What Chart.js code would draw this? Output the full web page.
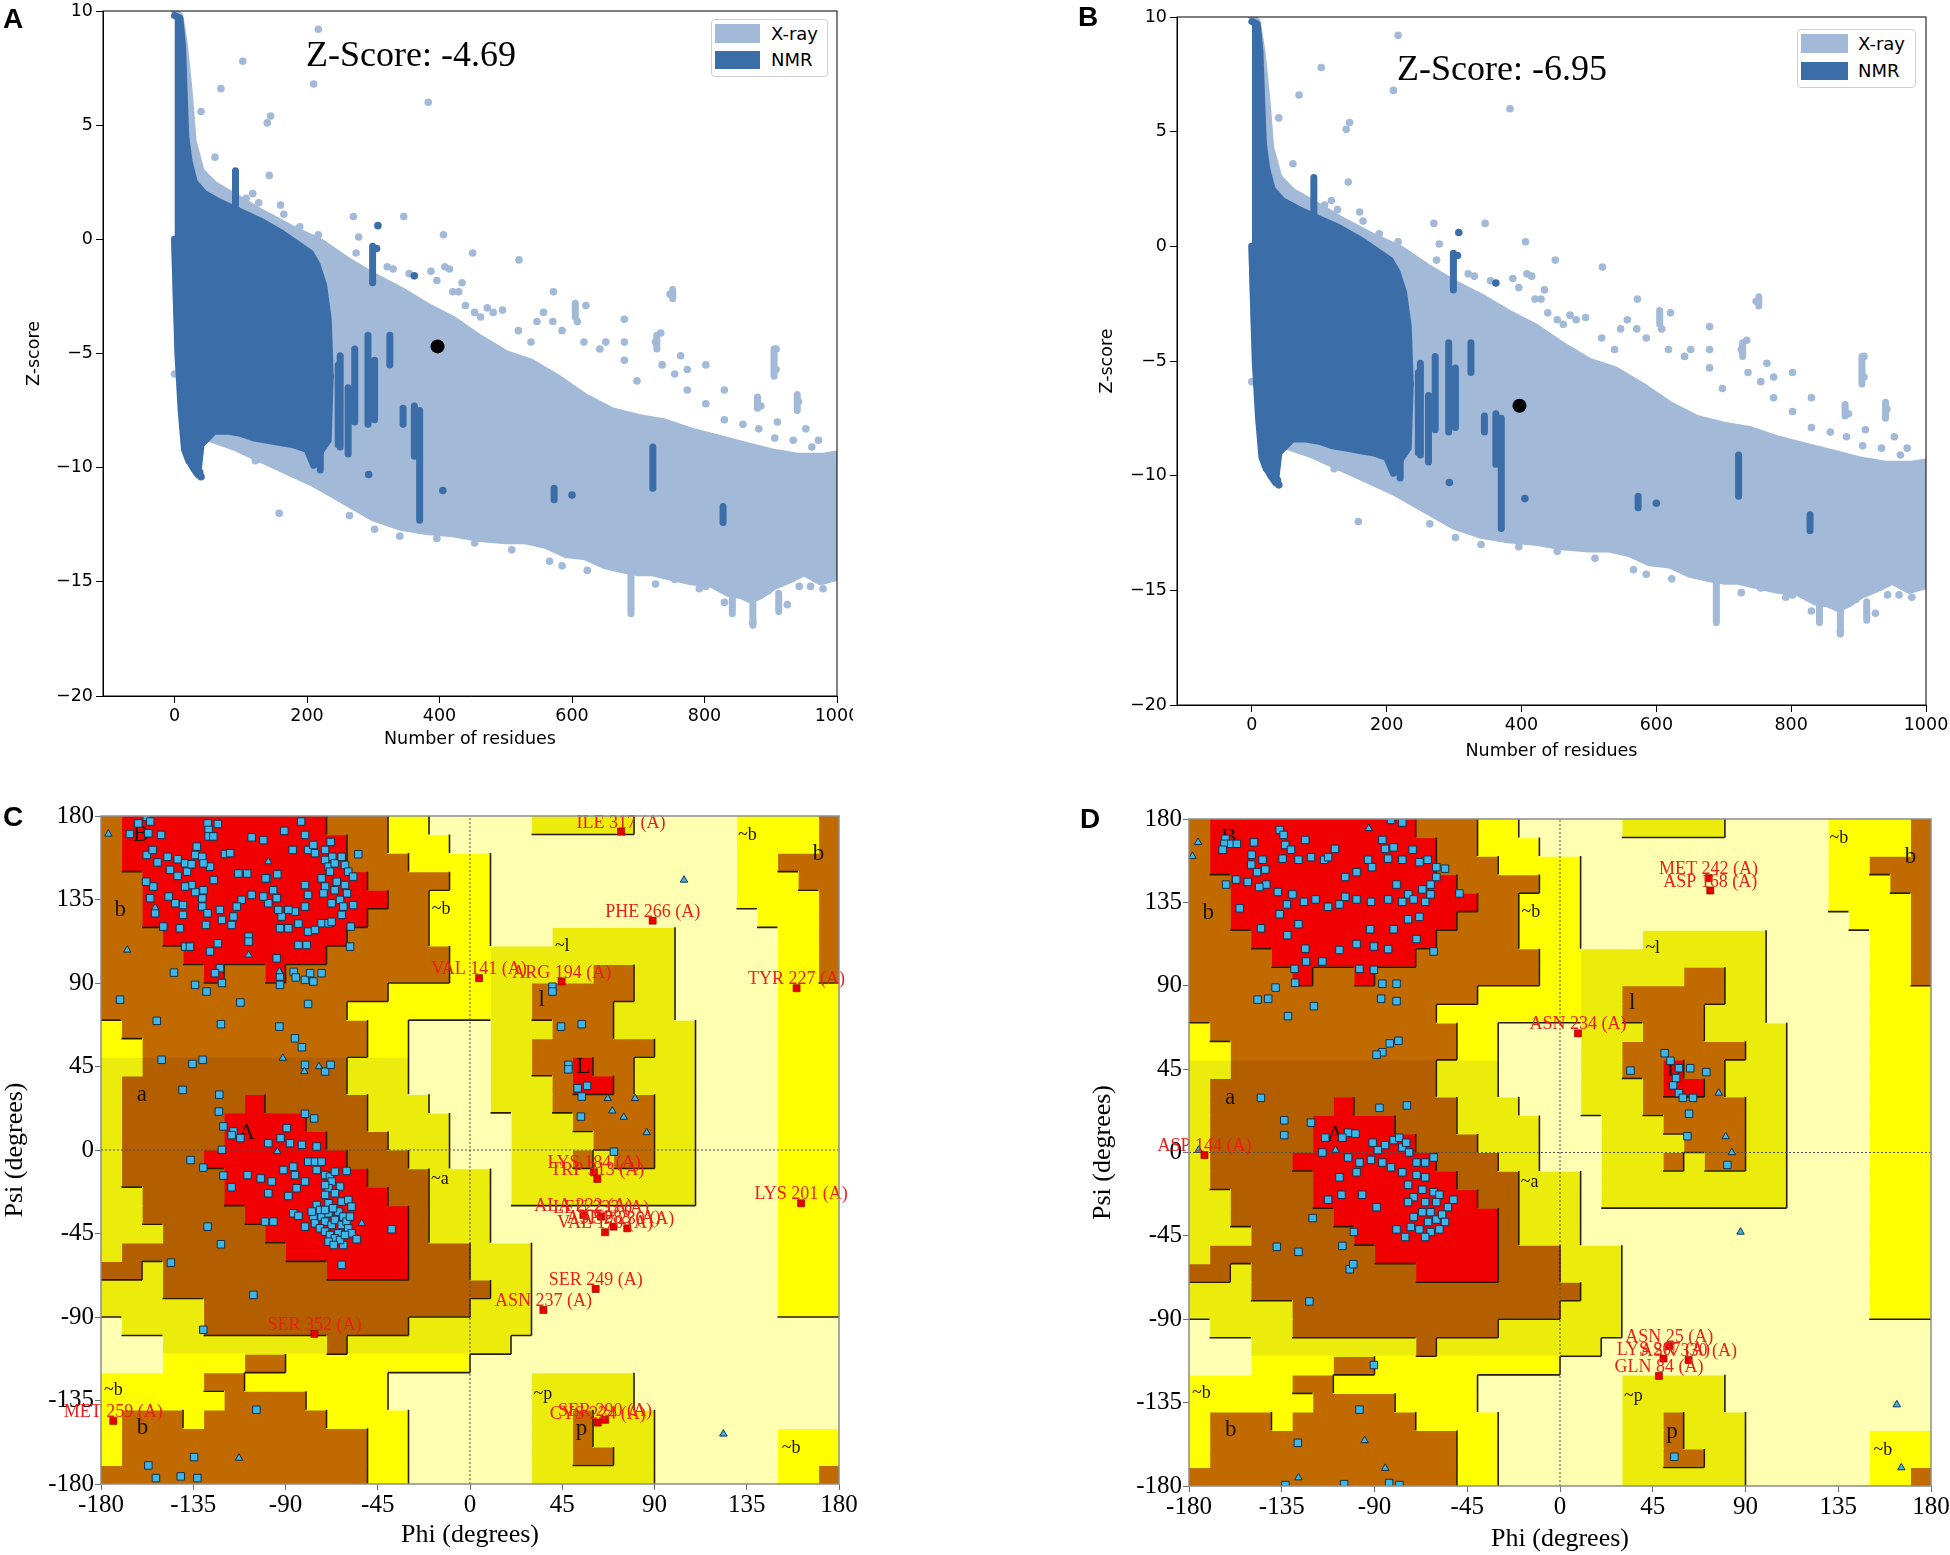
<!DOCTYPE html>
<html>
<head>
<meta charset="utf-8">
<title>ProSA Z-score and Ramachandran plots</title>
<script src="https://cdn.jsdelivr.net/npm/chart.js@4.4.1/dist/chart.umd.min.js"></script>
<style>
  html, body { margin:0; padding:0; background:#ffffff; }
  body { position:relative; width:1950px; height:1555px; overflow:hidden; }
  canvas { position:absolute; display:block; }
  .letter { position:absolute; font-family:"Liberation Sans", Arial, sans-serif; font-weight:bold; font-size:28px; line-height:28px; color:#000; }
  .zscore { position:absolute; font-family:"Liberation Serif", "Times New Roman", serif; font-size:36px; line-height:36px; white-space:nowrap; color:#000; }
  .legend { position:absolute; box-sizing:border-box; border:1px solid #cfcfcf; border-radius:4px; background:#fff; font-family:"DejaVu Sans", sans-serif; font-size:18px; color:#000; }
  .legend .sw { position:absolute; }
  .legend .tx { position:absolute; line-height:20px; white-space:nowrap; }
</style>
</head>
<body>
<canvas id="cA" width="853" height="770" style="left:0px;top:0px"></canvas>
<canvas id="cB" width="880" height="775" style="left:1070px;top:0px"></canvas>
<canvas id="cC" width="860" height="765" style="left:0px;top:790px"></canvas>
<canvas id="cD" width="862" height="762" style="left:1088px;top:793px"></canvas>

<div class="letter" style="left:3px;top:5px">A</div>
<div class="letter" style="left:1078px;top:3px">B</div>
<div class="letter" style="left:3px;top:803px">C</div>
<div class="letter" style="left:1080px;top:805px">D</div>

<div class="zscore" style="left:306px;top:36px">Z-Score: -4.69</div>
<div class="zscore" style="left:1397px;top:50px">Z-Score: -6.95</div>

<div class="legend" style="left:711px;top:19px;width:117px;height:58px">
  <div class="sw" style="left:3px;top:4px;width:45px;height:19px;background:#a2b9d8"></div>
  <div class="sw" style="left:3px;top:31px;width:45px;height:18px;background:#3b6ea8"></div>
  <div class="tx" style="left:59px;top:4px">X-ray</div>
  <div class="tx" style="left:59px;top:30px">NMR</div>
</div>
<div class="legend" style="left:1797px;top:29px;width:119px;height:59px">
  <div class="sw" style="left:3px;top:4px;width:47px;height:19px;background:#a2b9d8"></div>
  <div class="sw" style="left:3px;top:32px;width:47px;height:18px;background:#3b6ea8"></div>
  <div class="tx" style="left:60px;top:4px">X-ray</div>
  <div class="tx" style="left:60px;top:31px">NMR</div>
</div>

<script>
// ---------------- DATA: ProSA Z-score panels (A, B) ----------------
const zXTicks = [0, 200, 400, 600, 800, 1000];
const zYTicks = [-20, -15, -10, -5, 0, 5, 10];

// envelope of the X-ray cloud [residues, z-score]
const xrayUpper = [[0,10],[8,9.8],[15,8.5],[22,6.5],[28,4.3],[40,3.0],[60,2.4],[90,1.9],[130,1.2],[175,0.5],[220,-0.1],[260,-0.9],[300,-1.6],[340,-2.2],[380,-2.9],[420,-3.5],[460,-4.3],[500,-5.0],[540,-5.4],[580,-6.1],[620,-6.9],[660,-7.5],[700,-7.8],[740,-8.0],[780,-8.4],[820,-8.7],[860,-9.0],[900,-9.3],[940,-9.5],[980,-9.5],[1000,-9.4]];
const xrayLower = [[0,0],[3,-3],[8,-6],[15,-8],[30,-8.5],[60,-8.8],[90,-9.1],[120,-9.5],[150,-9.9],[180,-10.3],[210,-10.7],[240,-11.2],[270,-11.7],[300,-12.2],[340,-12.6],[380,-12.8],[420,-12.9],[460,-13.1],[500,-13.2],[530,-13.2],[560,-13.4],[590,-13.8],[620,-13.9],[650,-14.3],[680,-14.5],[700,-14.6],[720,-14.6],[750,-14.8],[780,-15.0],[810,-15.1],[835,-15.5],[855,-15.6],[870,-15.8],[885,-15.6],[905,-15.2],[930,-14.9],[950,-14.6],[975,-15.0],[1000,-14.8]];
// vertical X-ray streaks [residues, z top, z bottom]
const xrayStreaks = [[689,-14.4,-16.4],[873,-15.4,-16.9],[905,-4.8,-6.0],[940,-6.8,-7.5],[728,-4.2,-4.8],[752,-2.2,-2.6],[605,-2.8,-3.4],[880,-6.9,-7.4],[842,-15.6,-16.4],[912,-15.5,-16.3]];
const xrayScatter = [[217,9.2],[210,6.8],[103,7.8],[70,6.6],[383,6.0],[145,5.4],[140,5.1],[40,5.6],[143,2.8],[19,3.4],[61,3.6],[118,2.0],[160,1.5],[270,1.0],[278,0.1],[346,1.0],[406,0.2],[450,-0.6],[520,-0.9],[321,-1.2],[415,-1.3],[434,-1.9],[429,-2.3],[453,-3.2],[472,-3.0],[572,-2.3],[621,-2.9],[748,-2.4],[547,-3.6],[608,-3.6],[679,-3.5],[734,-4.1],[726,-4.5],[651,-4.5],[679,-4.5],[764,-5.1],[802,-5.5],[774,-5.7],[830,-6.6],[908,-4.8],[908,-5.7],[942,-7.1],[885,-7.3],[910,-8.0],[953,-8.3],[972,-8.8],[997,-9.5],[887,-9.9],[0,-5.9],[122,-9.7],[158,-12.0],[873,-16.8],[925,-16.0],[802,-15.2],[979,-15.3],[960,-15.2],
  [108,1.8],[127,1.6],[165,1.1],[189,0.55],[217,0.2],[274,-0.6],[330,-1.3],[354,-1.5],[387,-1.4],[396,-1.8],[408,-1.2],[420,-2.3],[439,-2.9],[462,-3.4],[481,-3.2],[495,-3.1],[519,-4.0],[538,-4.5],[557,-3.2],[571,-3.6],[585,-4.0],[618,-4.5],[642,-4.8],[679,-5.3],[698,-6.2],[736,-5.5],[755,-5.9],[774,-6.6],[802,-7.2],[830,-7.9],[858,-8.1],[882,-8.3],[906,-8.7],[934,-8.8],[962,-9.1],
  [264,-12.1],[302,-12.7],[340,-13.0],[396,-13.1],[453,-13.3],[509,-13.6],[566,-14.1],[585,-14.3],[623,-14.5],[670,-14.1],[726,-15.1],[755,-14.9],[792,-15.3],[830,-15.9],[858,-15.5],[896,-15.4],[943,-15.2],[981,-14.9]];

// envelope of the NMR cloud
const nmrUpper = [[0,9.8],[8,9.7],[12,8.5],[15,6.0],[17,4.5],[22,3.4],[30,2.5],[45,2.0],[70,1.6],[100,1.2],[130,0.8],[160,0.3],[185,-0.2],[205,-0.6],[215,-1.1],[225,-2.0],[232,-3.5],[235,-6.0]];
const nmrLower = [[0,0],[2,-2],[5,-5],[10,-7.5],[15,-9.2],[20,-9.6],[28,-10.0],[35,-10.3],[40,-9.0],[60,-8.4],[80,-8.4],[100,-8.5],[120,-8.7],[140,-8.8],[160,-8.9],[180,-9.0],[200,-9.2],[210,-9.9],[220,-9.3],[232,-8.8],[235,-6.0]];
// vertical NMR streaks [residues, z top, z bottom]
const nmrStreaks = [[92,3.0,1.1],[220,-6.2,-10.1],[247,-5.5,-9.0],[250,-5.1,-9.1],[262,-6.5,-9.4],[272,-4.8,-8.0],[292,-4.2,-8.1],[299,-0.3,-1.9],[302,-5.3,-7.9],[325,-4.2,-5.5],[345,-7.4,-8.1],[362,-7.3,-9.5],[370,-7.5,-12.3],[573,-10.9,-11.4],[722,-9.1,-10.9],[828,-11.7,-12.4]];
const nmrScatter = [[307,0.6],[305,-0.4],[362,-1.6],[293,-10.3],[405,-11.0],[600,-11.2],[22,-9.7],[38,-10.2],[40,-10.4]];

const modelA = [397, -4.69];
const modelB = [397, -6.95];

// ---------------- DATA: Ramachandran panels (C, D) ----------------
const ramaTicks = [-180, -135, -90, -45, 0, 45, 90, 135, 180];
// Region map, rows psi 180..-180 (10 deg each), run-length over phi -180..180
// R core, A/B allowed, G/Y generous, W disallowed
const regionRLE = [
  "B1R10B3Y2W5G5W5Y4B1",
  "B1R11B2Y3W14Y4B1",
  "B1R11B3Y4W12Y2B3",
  "B2R11B4Y2W12Y3B2",
  "B2R12B2Y3W12Y4B1",
  "B2R11B3Y3W13Y3B1",
  "B3R9B4Y3W3G6W5Y2B1",
  "B4R7B6Y2G9W5Y2B1",
  "B5R1B2R1B8Y2G5B2G2W5Y2B1",
  "B14Y5G2B5G2W5Y3",
  "B12Y7G2B4G3W5Y3",
  "Y1B12Y2W4G3B3G4W4Y3",
  "Y2B11Y2W4G2B6G2W4Y3",
  "G2A10G3W4G2B2R1B2G3W4Y3",
  "G1A11G3W4G3B1R2B1G3W4Y3",
  "G1A6R1A5G3W3G3B5G2W4Y3",
  "G1A5R4A3G4W3G3B4G2W4Y3",
  "G1A5R5A3G3W3G4B3G2W4Y3",
  "G1A4R7A3G2W3G3B1G1B2G2W4Y3",
  "G1A5R7A3G3W1G9W4Y3",
  "G2A4R8A2G3W1G9W4Y3",
  "G2A5R8A1G3W14Y3",
  "G3A5R7A1G3W14Y3",
  "G1A8R6A3G3W12Y3",
  "A2G1A8R4A3G3W12Y3",
  "G3A16G2W12Y3",
  "G5A13G3W12Y3",
  "W1G4A10G6W15",
  "W3G8A1G8W16",
  "W3Y4B2Y9W18",
  "Y5B2Y7W7G5W10",
  "Y6B4Y4W7G5W10",
  "Y1B3Y1B6Y4W6G2B1G3W9",
  "Y1B12Y2W6G2B1G3W6Y3",
  "Y1B12Y2W6G2B2G2W6Y3",
  "B13Y2W6G6W6Y2B1"
];
const regionLabels = [[-160.6,169.8,'B'],[-170.6,129.2,'b'],[-160.1,29.4,'a'],[-109,9.4,'A'],[-14.1,129.7,'~b'],[-14.7,-16,'~a'],[45,110,'~l'],[35,80.8,'l'],[55.2,44.7,'L'],[135.3,169.8,'~b'],[170,159.7,'b'],[-174,-129.7,'~b'],[-159.8,-149.8,'b'],[35.6,-131.6,'~p'],[54.4,-150.6,'p'],[156.6,-160.5,'~b']];

// Panel C residues [phi, psi]
const cResidues = [[-157.7,179.6],[-161.8,176],[-156,177],[-165.9,170.3],[-156.9,170.7],[-150.7,169.8],[-157.7,159],[-154.8,161.7],[-152.4,155],[-147.5,158],[-146.3,151],[-142.6,156.7],[-142.6,147.7],[-139,154.5],[-138,150],[-135.8,154],[-133.3,163.5],[-134,159],[-130.6,158],[-128,176],[-123,175.7],[-127.5,172.5],[-127.5,169],[-125.2,169],[-126.8,152.7],[-130,154.5],[-119.5,159.5],[-117,160],[-106.5,168.5],[-100.8,167],[-90.6,172],[-82.4,177],[-80.5,169.8],[-113,149],[-108.7,149],[-99,146.4],[-94,148.6],[-86.5,161.7],[-79,161.7],[-76.4,164.4],[-75.6,160],[-70.7,161.7],[-68,166],[-67.2,158],[-70.7,156.3],[-69,152.7],[-66,154.5],[-62.6,158],[-61,153.6],[-59.4,150],[-57,147.3],[-54.5,159.4],[-68.3,150],[-65,144.6],[-61,142.8],[-66,140],[-60,138.3],[-63.4,134.8],[-67.5,133],[-57,132],[-61.8,131.2],[-70.7,142],[-71.5,138.3],[-72.4,146.4],[-80.5,142.8],[-79,137.5],[-85.4,128.5],[-88.6,129.4],[-91.9,125.8],[-92.7,119.5],[-88.6,119.5],[-83.7,122],[-79,117.7],[-75.6,118.6],[-72.4,122.2],[-69,122.2],[-67.5,123],[-62.6,126.7],[-58.2,120.4],[-80.5,131.2],[-93.5,129.4],[-94.3,135.7],[-98.4,133],[-100.8,136.6],[-96,140],[-99.7,146.4],[-106.5,137.5],[-111.4,134.8],[-113.8,131.2],[-115.4,125.8],[-116.3,121.3],[-122,129.4],[-121,124],[-125,145.5],[-130,140],[-130.6,135.6],[-130.6,131.2],[-128,127.6],[-128.8,121.3],[-134,139],[-135.8,142.8],[-139,142],[-140,132],[-140,126.7],[-143.8,133],[-147,136.6],[-154.5,142],[-153.6,127.6],[-156,135.7],[-158,144.6],[-149.6,120.4],[-141.5,119.5],[-139,109.6],[-136.6,109.6],[-126.8,107],[-123,111.4],[-108,115],[-108,112.3],[-83.7,110.5],[-79.7,110.5],[-58.5,109.6],[-94.3,103.3],[-92.7,93.5],[-122,98],[-124.4,95.3],[-121,90],[-134.1,89],[-128.5,85.4],[-86,96],[-85,93],[-80.5,91.7],[-76.4,90.8],[-78,95.3],[-72.4,95.3],[-92.7,89],[-144.4,95.6],[-170.7,81],[-112,79.5],[-79,78.7],[-152.8,69.6],[-121.5,67.8],[-93,66.5],[-85.4,60.2],[-82,55.4],[-150.4,48.6],[-135.4,46.4],[-130.4,48.6],[-80.5,45.9],[-70.7,42.3],[-68,45.9],[-140.2,32.4],[-122.3,29.8],[-122.5,20.7],[-80.5,19.5],[-76,17],[-120.3,12.7],[-115.4,10],[-112,6.4],[-116.3,8],[-89.4,11.8],[-92.4,6.4],[-98.4,3.7],[-87.8,3.7],[-82,2.8],[-74.8,1.9],[-121,0.1],
[-136.3,-5.4],[-130.1,-9.5],[-120.3,-13.8],[-116.3,-20.1],[-108.5,-13.5],[-102.1,-15.3],[-96.7,-17],[-98.4,-23.3],[-88.6,-24.8],[-84.6,-20.6],[-80.5,-17],[-85.4,-13.5],[-91,-10.8],[-86.2,-9],[-78.9,-6.3],[-75.6,-6.3],[-72.4,-6.3],[-74.8,-10.8],[-70.7,-13.5],[-68.3,-14.4],[-65.9,-11.7],[-60.2,-11.3],[-67.5,-17],[-63.4,-19.7],[-69,-20.6],[-70.7,-24.2],[-65.9,-23.3],[-74.8,-29.6],[-69,-28.7],[-62.6,-27.8],[-59.4,-26.9],[-57.8,-30.5],[-86.2,-34.1],[-83.7,-35.5],[-80.5,-41.3],[-76.4,-35.9],[-75.6,-39.5],[-72.4,-35.9],[-70.7,-38.6],[-69,-34.1],[-67.5,-40.4],[-65.9,-37.7],[-64.2,-33.2],[-61.8,-35.9],[-62.6,-40.4],[-60.2,-38.6],[-58.5,-35.9],[-59.4,-42.2],[-57.8,-44.9],[-64.2,-44.9],[-61.8,-51.2],[-55.3,-48.1],[-38.2,-42.7],[-62.6,-61.9],[-100,-38.6],[-95.9,-38.6],[-128,-41.3],[-121.5,-50.8],[-145.9,-60.7],[-105.7,-78.1],[-130.1,-96.9],[-73.2,-32.3],[-70.7,-32.3],[-66.8,-31.4],[-73.2,-42.2],[-70.7,-44],[-68.3,-45.8],[-65.9,-47.6],[-63.4,-48.5],[-61,-45.8],[-69,-49.4],[-66.5,-51.2],[-77.2,-33.2],[-70.7,-18.9],[-104.2,-140],[-134.6,-165.5],[-156.9,-170],[-153.2,-176.8],[-141.1,-175.9],[-133,-176.8],
[40.2,88],[40.2,85.4],[44.4,66.5],[54.5,67.8],[48,45.9],[48,43.5],[52.5,33.3],[57.1,34.6],[54.5,28.8],[54.1,18],[70.2,-0.9]];
const cGlycines = [[-176.4,170.3],[-153.6,130.6],[-167.2,107.8],[-108,105.1],[-98.4,155.4],[-93,96.2],[-91.3,49.5],[-80.8,42.3],[-73.7,45],[-94,-0.8],[-52.8,-39.5],[-112.7,-166],[67.2,27.8],[80.5,27.8],[69.4,21.1],[75,17.7],[86.2,9.4],[104.4,145.5],[123.6,-153]];
const cOutliers = [[73.7,171.6],[89.1,123.6],[4.4,92.6],[44.7,90.8],[159.3,87.2],[60.5,-12],[62.1,-15.6],[161.5,-28.7],[55.3,-35],[63.9,-35.9],[65.9,-44.3],[70,-41.3],[76.7,-42.2],[61.3,-74.9],[35.8,-86.2],[65.9,-145.4],[62.3,-146.9],[-75.9,-99.1],[-174,-146]];
const cOutlierNames = ['ILE 317 (A)','PHE 266 (A)','VAL 141 (A)','ARG 194 (A)','TYR 227 (A)','LYS 184 (A)','TRP 313 (A)','LYS 201 (A)','ALA 222 (A)','LEU 233 (A)','VAL 170 (A)','ASP 283 (A)','ASP 230 (A)','SER 249 (A)','ASN 237 (A)','SER 290 (A)','CYS 224 (A)','SER 352 (A)','MET 259 (A)'];

// Panel D residues [phi, psi]
const dResidues = [[-162.3,169.3],[-162.8,166.6],[-159.5,166.6],[-163.7,163.4],[-156.8,166.6],[-148.5,167.4],[-149.6,160.7],[-144.3,158],[-149.8,155.4],[-147,151.3],[-143,152.7],[-136,174.1],[-134.1,171.4],[-133.3,166],[-130.5,163.4],[-134.6,158.6],[-126.9,158],[-123.6,168.7],[-120.8,159.4],[-114.4,158],[-112.5,159.4],[-109.2,163.9],[-104.2,148.7],[-98.7,151.3],[-93.1,158],[-91.2,154],[-86.2,168.7],[-84.9,163.9],[-80.7,164.7],[-76.5,178.1],[-82,179.5],[-83.4,158.6],[-76.5,158],[-71.5,163.4],[-68.2,156.7],[-64.2,158],[-60,154],[-60,148.7],[-62.8,144.6],[-55.8,153.2],[-48.8,139.8],[-66.8,142],[-73.6,139.3],[-79.3,144.6],[-83.4,136.6],[-76.5,135.3],[-71,136.6],[-65.4,135.3],[-62.8,139.3],[-91.7,135.3],[-98.7,136.6],[-104.2,138],[-107,133.9],[-112.5,132.6],[-118.6,136.6],[-124.2,135.3],[-129.8,139.3],[-132.5,133.9],[-136.9,140.6],[-142.5,144.6],[-145.9,143.3],[-151.5,146],[-157.1,147.3],[-162,144.6],[-155.4,131.8],[-145.1,121],[-136,128.6],[-132.3,117.3],[-126.9,123.2],[-123.6,110],[-128.8,99.1],[-123.2,103.1],[-115.3,103.1],[-107,109.3],[-98.7,112.5],[-90.3,111.2],[-83.4,109.8],[-92.1,120.5],[-80.7,120.5],[-73.7,125.9],[-68.2,127.2],[-61.3,108.5],[-69.6,115.2],[-97.3,99.1],[-90.3,98.6],[-128.5,91.6],[-79.3,91.1],[-86.8,83],[-79.3,81.7],[-86.2,91.1],[-119.4,79],[-132,73.6],[-138,89],[-141.6,83],[-146.7,82.5],[-78.4,60.3],[-82.6,58.9],[-86.2,54.1],[-89,52.8],
[-145.1,29.5],[-133.8,17.4],[-133.8,9.4],[-120.8,16.1],[-102.8,10.7],[-99.2,10.2],[-87.6,24.1],[-74.3,25.4],[-90.9,5.3],[-113.9,8],[-115.3,0],[-107,-13.4],[-112.5,-25.5],[-120,-35.4],[-137.4,-50.9],[-126.9,-53.6],[-105.6,-50.4],[-100,-42.9],[-102,-63],[-100.3,-60.3],[-121.6,-80.4],[-90.3,-114.7],
[-84.9,4],[-80.7,6.7],[-78,8],[-76.5,2.7],[-74.6,5.3],[-73.2,0],[-69.6,-5.4],[-65.4,-5.4],[-61.3,-2.7],[-91.7,-4],[-86.2,-5.4],[-82,-8],[-76.5,-10.7],[-69.6,-12.1],[-65.4,-13.4],[-73.7,-17.4],[-66.8,-20.1],[-61.3,-21.4],[-58.5,-22.8],[-71,-24.1],[-73.7,-26.8],[-65.4,-26.8],[-60,-26.8],[-54.4,-29.5],[-51.7,-25.5],[-62.8,-32.2],[-66.8,-32.2],[-71,-34.8],[-64,-37.5],[-60,-36.2],[-57.2,-33.5],[-55.8,-37.5],[-72.4,-40.2],[-68.2,-41.5],[-62.8,-42.9],[-58.5,-41.5],[-65.4,-45.6],[-75.1,-45.6],[-79.3,-41.5],[-89,-29.5],[-96,-22.8],[-106,-22.8],[-98.7,-10.7],[-97.3,-5.4],[-102.8,-2.7],[-105.6,8],[-88.4,1.3],
[50.8,53.6],[53.6,49.5],[57.7,45.5],[63.2,45.5],[71,43.4],[56.3,40.2],[54.9,36.2],[57.7,32.1],[59.6,29.5],[64.5,29.5],[62.6,20.9],[61.8,8.8],[34.2,44.2],[81.2,-6.7],
[-97.3,-138.8],[-127.2,-156.7],[-133.2,-179.5],[-104.7,-179],[-82.9,-178.4],[-77.9,-179.5],[55.5,-164.2]];
const dGlycines = [[-175.6,167.4],[-178.3,159.9],[-175.3,1.3],[-108.9,1.3],[-92.8,174.9],[77,32.1],[80.4,8.6],[83.4,0],[87.6,-42.9],[163.4,-136.1],[165.6,-170.1],[-94.8,-155.4],[-84.8,-170.4],[-126.9,-175.5]];
const dOutliers = [[72.1,148.1],[72.9,141.4],[8.7,64.3],[-172.5,-1.4],[53,-104.5],[50.2,-111.2],[62.4,-112],[48,-120.6]];
const dOutlierNames = ['MET 242 (A)','ASP 168 (A)','ASN 234 (A)','ASP 144 (A)','ASN 25 (A)','LYS 207 (A)','ASN 330 (A)','GLN 84 (A)'];

// ---------------- STYLES ----------------
const XRAY = '#a2b9d8', NMR = '#3b6ea8';
const REG_COL = {R:'#f00000', A:'#b35f00', B:'#c06a00', G:'#ecec0c', Y:'#ffff00', W:'#ffffb2'};
const REG_LEVEL = {R:4, A:3, B:3, G:2, Y:2, W:1};

// ---------------- helpers ----------------
const toXY = arr => arr.map(p => ({x:p[0], y:p[1]}));
function expandRLE(s){ let out=''; s.replace(/([A-Z])(\d+)/g, (m,ch,n)=>{ out += ch.repeat(+n); return m; }); return out; }
const regionGrid = regionRLE.map(expandRLE);
const RMIN = ramaTicks[0], RMAX = ramaTicks[ramaTicks.length-1];
const CELL = (RMAX - RMIN) / 36;

function regionRuns(code){
  const out = [];
  regionGrid.forEach((row, r) => {
    const psi = RMAX - CELL*(r + 0.5);
    let c = 0;
    while (c < row.length){
      if (row[c] === code){
        let e = c; while (e < row.length && row[e] === code) e++;
        out.push({x:[RMIN + CELL*c, RMIN + CELL*e], y:psi});
        c = e;
      } else c++;
    }
  });
  return out;
}
function edgeData(){
  const d = [];
  for (let r = 0; r < 36; r++) for (let c = 0; c < 36; c++){
    const L = REG_LEVEL[regionGrid[r][c]];
    if (r < 35 && L > REG_LEVEL[regionGrid[r+1][c]]){
      const y = RMAX - CELL*(r+1);
      d.push({x:RMIN + CELL*c, y}, {x:RMIN + CELL*(c+1), y}, {x:null, y:null});
    }
    if (c < 35 && L > REG_LEVEL[regionGrid[r][c+1]]){
      const x = RMIN + CELL*(c+1);
      d.push({x, y:RMAX - CELL*r}, {x, y:RMAX - CELL*(r+1)}, {x:null, y:null});
    }
  }
  return d;
}
function streakData(list){
  const d = [];
  list.forEach(s => { d.push({x:s[0], y:s[1]}, {x:s[0], y:s[2]}, {x:null, y:null}); });
  return d;
}
function drawText(ctx, x, y, text, font, color, align, baseline){
  ctx.save(); ctx.font = font; ctx.fillStyle = color; ctx.textAlign = align; ctx.textBaseline = baseline;
  ctx.fillText(text, x, y); ctx.restore();
}
function framePlugin(color, width){
  return { id:'frame', afterDatasetsDraw(chart){
    const a = chart.chartArea, c = chart.ctx;
    c.save(); c.strokeStyle = color; c.lineWidth = width;
    c.strokeRect(a.left, a.top, a.right - a.left, a.bottom - a.top); c.restore();
  }};
}
const minusFmt = v => (v < 0 ? '\u2212' + Math.abs(v) : String(v));

// ---------------- Z-score chart ----------------
function zChart(id, model, g){
  const lineBase = {type:'line', pointRadius:0, borderWidth:7, borderJoinStyle:'round', borderCapStyle:'round', tension:0};
  const axisFont = {family:'"DejaVu Sans", sans-serif', size:17.5};
  new Chart(document.getElementById(id), {
    type:'scatter',
    data:{datasets:[
      Object.assign({}, lineBase, {label:'xrayUpper', data:toXY(xrayUpper), fill:'+1', backgroundColor:XRAY, borderColor:XRAY, order:30}),
      Object.assign({}, lineBase, {label:'xrayLower', data:toXY(xrayLower), fill:false, borderColor:XRAY, order:30}),
      Object.assign({}, lineBase, {label:'xrayStreaks', data:streakData(xrayStreaks), fill:false, borderColor:XRAY, spanGaps:false, order:29}),
      {label:'X-ray', data:toXY(xrayScatter), backgroundColor:XRAY, borderWidth:0, pointRadius:3.8, order:29},
      Object.assign({}, lineBase, {label:'nmrUpper', data:toXY(nmrUpper), fill:'+1', backgroundColor:NMR, borderColor:NMR, order:20}),
      Object.assign({}, lineBase, {label:'nmrLower', data:toXY(nmrLower), fill:false, borderColor:NMR, order:20}),
      Object.assign({}, lineBase, {label:'nmrStreaks', data:streakData(nmrStreaks), fill:false, borderColor:NMR, spanGaps:false, order:19}),
      {label:'NMR', data:toXY(nmrScatter), backgroundColor:NMR, borderWidth:0, pointRadius:3.8, order:18},
      {label:'model', data:[{x:model[0], y:model[1]}], backgroundColor:'#000', borderWidth:0, pointRadius:7, order:0}
    ]},
    options:{
      responsive:false, animation:false, devicePixelRatio:1,
      layout:{padding:{left:0, top:g.top, right:g.right, bottom:0}},
      plugins:{legend:{display:false}, tooltip:{enabled:false}},
      scales:{
        x:{type:'linear', min:g.xmin, max:1000,
           afterFit(s){ s.height = g.xh; s.paddingLeft = 0; s.paddingRight = 0; },
           afterBuildTicks(s){ s.ticks = zXTicks.map(v => ({value:v})); },
           ticks:{callback:v => String(v), font:axisFont, color:'#000', padding:3, maxRotation:0, autoSkip:false},
           grid:{display:true, drawOnChartArea:false, drawTicks:true, tickLength:7, color:'#000', tickColor:'#000'},
           border:{display:true, color:'#000', width:1},
           title:{display:true, text:'Number of residues', font:axisFont, color:'#000', padding:{top:0, bottom:g.xtPad}}},
        y:{type:'linear', min:-20, max:10,
           afterFit(s){ s.width = g.yw; s.paddingTop = 0; s.paddingBottom = 0; },
           afterBuildTicks(s){ s.ticks = zYTicks.map(v => ({value:v})); },
           ticks:{callback:minusFmt, font:axisFont, color:'#000', padding:3, autoSkip:false},
           grid:{display:true, drawOnChartArea:false, drawTicks:true, tickLength:7, color:'#000', tickColor:'#000'},
           border:{display:true, color:'#000', width:1},
           title:{display:true, text:'Z-score', font:axisFont, color:'#000', padding:{top:g.ytPad, bottom:0}}}
      }
    },
    plugins:[framePlugin('#000', 1)]
  });
}

// ---------------- Ramachandran chart ----------------
function ramaChart(id, residues, glycines, outliers, names, g){
  const ds = [];
  'WYGBAR'.split('').forEach(code => {
    ds.push({type:'bar', label:'region' + code, indexAxis:'y', data:regionRuns(code), backgroundColor:REG_COL[code],
             borderWidth:0, barPercentage:1, categoryPercentage:1, grouped:false, inflateAmount:0.6, order:100});
  });
  ds.push({type:'line', label:'edges', data:edgeData(), borderColor:'#2a1a00', borderWidth:1.6, pointRadius:0, fill:false, spanGaps:false, order:50});
  ds.push({type:'line', label:'zero', data:[{x:RMIN,y:0},{x:RMAX,y:0},{x:null,y:null},{x:0,y:RMIN},{x:0,y:RMAX}],
           borderColor:'#505050', borderWidth:1, borderDash:[2,2], pointRadius:0, fill:false, spanGaps:false, order:45});
  ds.push({type:'scatter', label:'residues', data:toXY(residues), pointStyle:'rect', pointRadius:5.3, backgroundColor:'#3db6ea', borderColor:'#16324d', borderWidth:1, order:10});
  ds.push({type:'scatter', label:'glycines', data:toXY(glycines), pointStyle:'triangle', pointRadius:4.3, backgroundColor:'#3db6ea', borderColor:'#16324d', borderWidth:1, order:9});
  ds.push({type:'scatter', label:'outliers', data:toXY(outliers), pointStyle:'rect', pointRadius:5.0, backgroundColor:'#e60000', borderColor:'#8a0000', borderWidth:0.6, order:5});

  const serif = '"Liberation Serif", "Times New Roman", serif';
  const annot = {
    id:'ramaAnnot',
    afterDatasetDraw(chart, args){
      if (chart.data.datasets[args.index].label !== 'edges') return;
      const xs = chart.scales.x, ys = chart.scales.y;
      regionLabels.forEach(([p, s, t]) => {
        drawText(chart.ctx, xs.getPixelForValue(p), ys.getPixelForValue(s), t,
                 (t.length === 1 ? '23px ' : '18px ') + serif, '#1c1400', 'center', 'middle');
      });
    },
    afterDatasetsDraw(chart){
      const xs = chart.scales.x, ys = chart.scales.y;
      outliers.forEach((p, i) => {
        drawText(chart.ctx, xs.getPixelForValue(p[0]), ys.getPixelForValue(p[1]) - 4, names[i],
                 '18px ' + serif, '#ee1c1c', 'center', 'alphabetic');
      });
    }
  };
  const tickFont = {family:serif, size:25};
  const titleFont = {family:serif, size:26};
  const axisCommon = {
    type:'linear', min:RMIN, max:RMAX, offset:false,
    afterBuildTicks(s){ s.ticks = ramaTicks.map(v => ({value:v})); },
    grid:{display:true, offset:false, drawOnChartArea:false, drawTicks:true, tickLength:6, color:'#707070', tickColor:'#707070'},
    border:{display:false}
  };
  new Chart(document.getElementById(id), {
    type:'scatter',
    data:{datasets:ds},
    options:{
      responsive:false, animation:false, devicePixelRatio:1,
      layout:{padding:{left:0, top:g.top, right:g.right, bottom:0}},
      plugins:{legend:{display:false}, tooltip:{enabled:false}},
      scales:{
        x:Object.assign({}, axisCommon, {
          afterFit(s){ s.height = g.xh; s.paddingLeft = 0; s.paddingRight = 0; },
          ticks:{callback:v => String(v), font:tickFont, color:'#000', padding:0, maxRotation:0, autoSkip:false},
          title:{display:true, text:'Phi (degrees)', font:titleFont, color:'#000', padding:{top:0, bottom:g.xtPad}}}),
        y:Object.assign({}, axisCommon, {
          afterFit(s){ s.width = g.yw; s.paddingTop = 0; s.paddingBottom = 0; },
          ticks:{callback:v => String(v), font:tickFont, color:'#000', padding:1, autoSkip:false},
          title:{display:true, text:'Psi (degrees)', font:titleFont, color:'#000', padding:{top:g.ytPad, bottom:0}}})
      }
    },
    plugins:[annot, framePlugin('#8c8c8c', 1.5)]
  });
}

zChart('cA', modelA, {xmin:-108, top:11, right:16, xh:74, yw:103, xtPad:20, ytPad:24});
zChart('cB', modelB, {xmin:-111, top:17, right:24, xh:70, yw:107, xtPad:13, ytPad:27});
ramaChart('cC', cResidues, cGlycines, cOutliers, cOutlierNames, {top:26, right:21, xh:71, yw:101, xtPad:4, ytPad:0});
ramaChart('cD', dResidues, dGlycines, dOutliers, dOutlierNames, {top:26, right:19, xh:69, yw:101, xtPad:0, ytPad:0});
</script>
</body>
</html>
